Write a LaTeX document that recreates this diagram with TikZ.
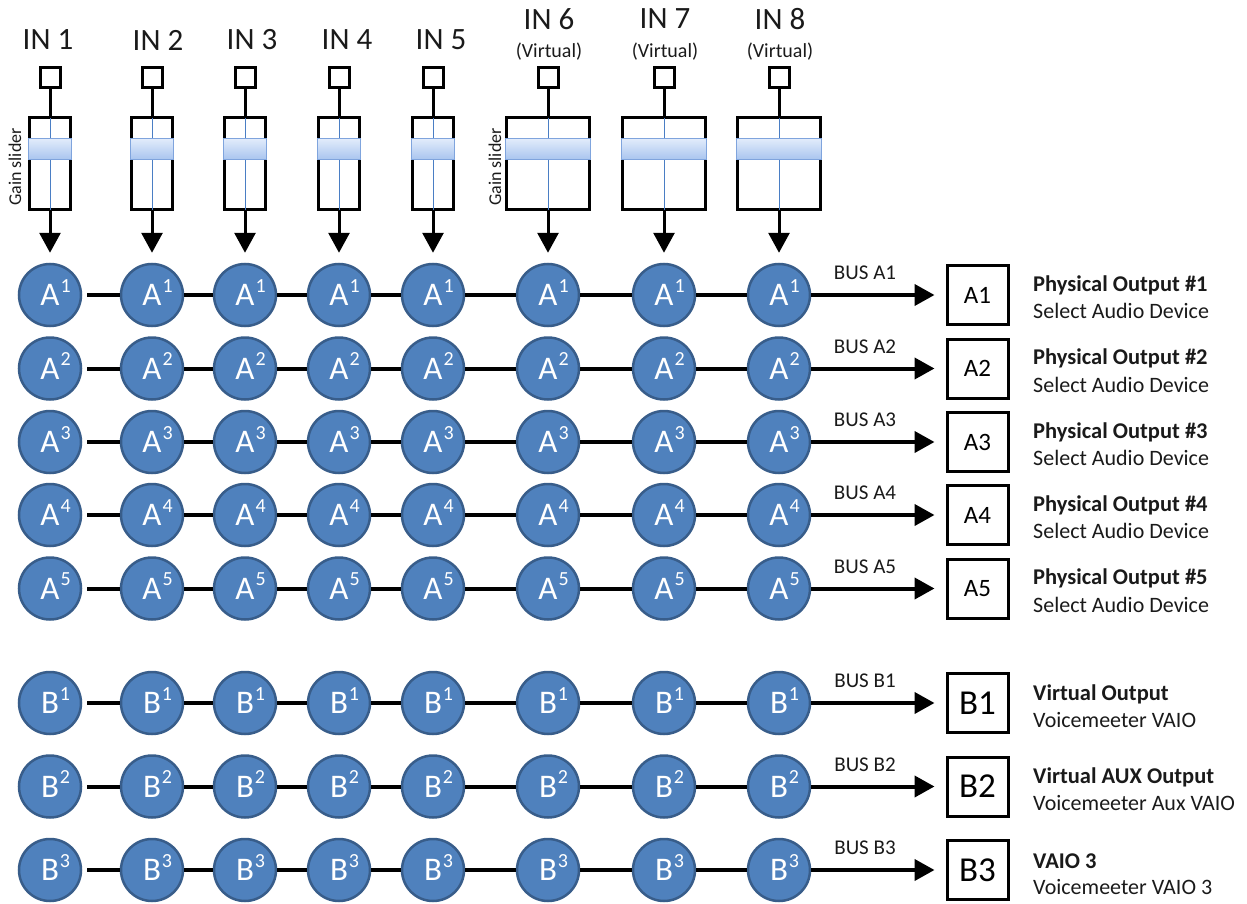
\documentclass[tikz,border=0pt]{standalone}
\usepackage{fontspec}
\setmainfont{Carlito}
\usetikzlibrary{arrows.meta}
\definecolor{cblue}{HTML}{4F81BD}
\definecolor{cborder}{HTML}{385D8A}
\definecolor{thumbtop}{HTML}{E2ECFB}
\definecolor{thumbbot}{HTML}{A9C5EF}
\definecolor{thumbedge}{HTML}{7FA4DD}
\definecolor{vlinec}{HTML}{4A7EC4}
\definecolor{txt}{HTML}{1A1A1A}
\newcommand\fsz[1]{\fontsize{#1}{#1}\selectfont}
\newcommand\suprs[1]{\hspace{1pt}\raisebox{13.5pt}{\fsz{20}#1}}
\tikzset{
 insq/.style={draw, line width=3pt, minimum size=20pt, inner sep=0pt},
 sbody/.style={draw, line width=3pt, minimum height=92pt, inner sep=0pt},
 thumb/.style={draw=thumbedge, line width=1pt, top color=thumbtop, bottom color=thumbbot, minimum height=21pt, inner sep=0pt},
 midline/.style={draw=vlinec, line width=1pt, shorten <=1.5pt, shorten >=1.5pt},
 stemline/.style={line width=3pt},
 downarr/.style={line width=3pt, -{Triangle[length=20pt,width=21pt]}, shorten >=10pt},
 bus/.style={circle, fill=cblue, draw=cborder, line width=2.5pt, minimum size=62pt, inner sep=0pt, text=white, font=\fsz{33}},
 conn/.style={line width=4pt},
 busarr/.style={line width=4pt, -{Triangle[length=20pt,width=21pt]}, shorten >=11pt},
 outbox/.style={draw, line width=3pt, minimum width=61pt, minimum height=59pt, inner sep=0pt},
 inlabel/.style={font=\fsz{31}, inner sep=0pt, text=txt},
 virt/.style={font=\fsz{20}, inner sep=0pt, text=txt},
 gain/.style={font=\fsz{18}, rotate=90, inner sep=0pt, text=txt},
 buslabel/.style={font=\fsz{21}, inner sep=0pt, text=txt},
 outtitle/.style={font=\bfseries\fsz{22.5}, anchor=west, inner sep=0pt, text=txt},
 outsub/.style={font=\fsz{22}, anchor=west, inner sep=0pt, text=txt},
}
\begin{document}
\begin{tikzpicture}[x=1pt,y=-1pt]
\useasboundingbox (0,0) rectangle (1247,904);
% bus rows A
\foreach \r/\y in {1/295,2/368.5,3/442,4/515,5/588.5} {
  \foreach \c/\x in {1/50,2/152,3/245,4/339,5/433,6/548,7/664,8/779} {
    \node[bus] (cA\r-\c) at (\x,\y) {A\rlap{\smash{\suprs{\r}}}};
  }
  \node[outbox, font=\fsz{25}] (oA\r) at (977.5,\y) {A\r};
  \node[buslabel] (lA\r) at (865,\y-22) {BUS A\r};
  \node[outtitle] (tA\r) at (1033,\y-10) {Physical Output \#\r};
  \node[outsub] (sA\r) at (1033,\y+16) {Select Audio Device};
  \draw[conn, shorten <=5pt] (cA\r-1) -- (cA\r-2);
  \foreach \c [evaluate=\c as \n using int(\c+1)] in {2,...,7} {
    \draw[conn] (cA\r-\c) -- (cA\r-\n);
  }
  \draw[busarr] (cA\r-8) -- (oA\r);
}
% bus rows B
\foreach \r/\y/\ti/\su in {1/703/Virtual Output/Voicemeeter VAIO,2/786.5/Virtual AUX Output/Voicemeeter Aux VAIO,3/870/VAIO 3/Voicemeeter VAIO 3} {
  \foreach \c/\x in {1/50,2/152,3/245,4/339,5/433,6/548,7/664,8/779} {
    \node[bus] (cB\r-\c) at (\x,\y) {B\rlap{\smash{\suprs{\r}}}};
  }
  \node[outbox, font=\fsz{35}] (oB\r) at (977.5,\y) {B\r};
  \node[buslabel] (lB\r) at (865,\y-22) {BUS B\r};
  \node[outtitle] (tB\r) at (1033,\y-9) {\ti};
  \node[outsub] (sB\r) at (1033,\y+17) {\su};
  \draw[conn, shorten <=5pt] (cB\r-1) -- (cB\r-2);
  \foreach \c [evaluate=\c as \n using int(\c+1)] in {2,...,7} {
    \draw[conn] (cB\r-\c) -- (cB\r-\n);
  }
  \draw[busarr] (cB\r-8) -- (oB\r);
}
% input strips
\foreach \i/\x/\w in {1/50/41,2/152/41,3/245/41,4/339/41,5/433/41,6/548/83,7/664/83,8/779/83} {
  \node[insq] (sq\i) at (\x,78) {};
  \node[sbody, minimum width=\w] (bd\i) at (\x,164) {};
  \draw[midline] (bd\i.north) -- (bd\i.south);
  \node[thumb, minimum width={\w+2}] (th\i) at (\x,149) {};
  \draw[stemline] (sq\i) -- (bd\i);
  \draw[downarr] (bd\i) -- (cA1-\i);
}
% input labels
\foreach \i/\lx in {1/48,2/158,3/252,4/347,5/441} {
  \node[inlabel] (in\i) at (\lx,40) {IN \i};
}
\foreach \i/\lx in {6/549,7/665,8/780} {
  \node[inlabel] (in\i) at (\lx,19) {IN \i};
  \node[virt] (v\i) at (\lx,52) {(Virtual)};
}
\node[gain] (g1) at (15,167) {Gain slider};
\node[gain] (g6) at (495,167) {Gain slider};
\end{tikzpicture}
\end{document}
